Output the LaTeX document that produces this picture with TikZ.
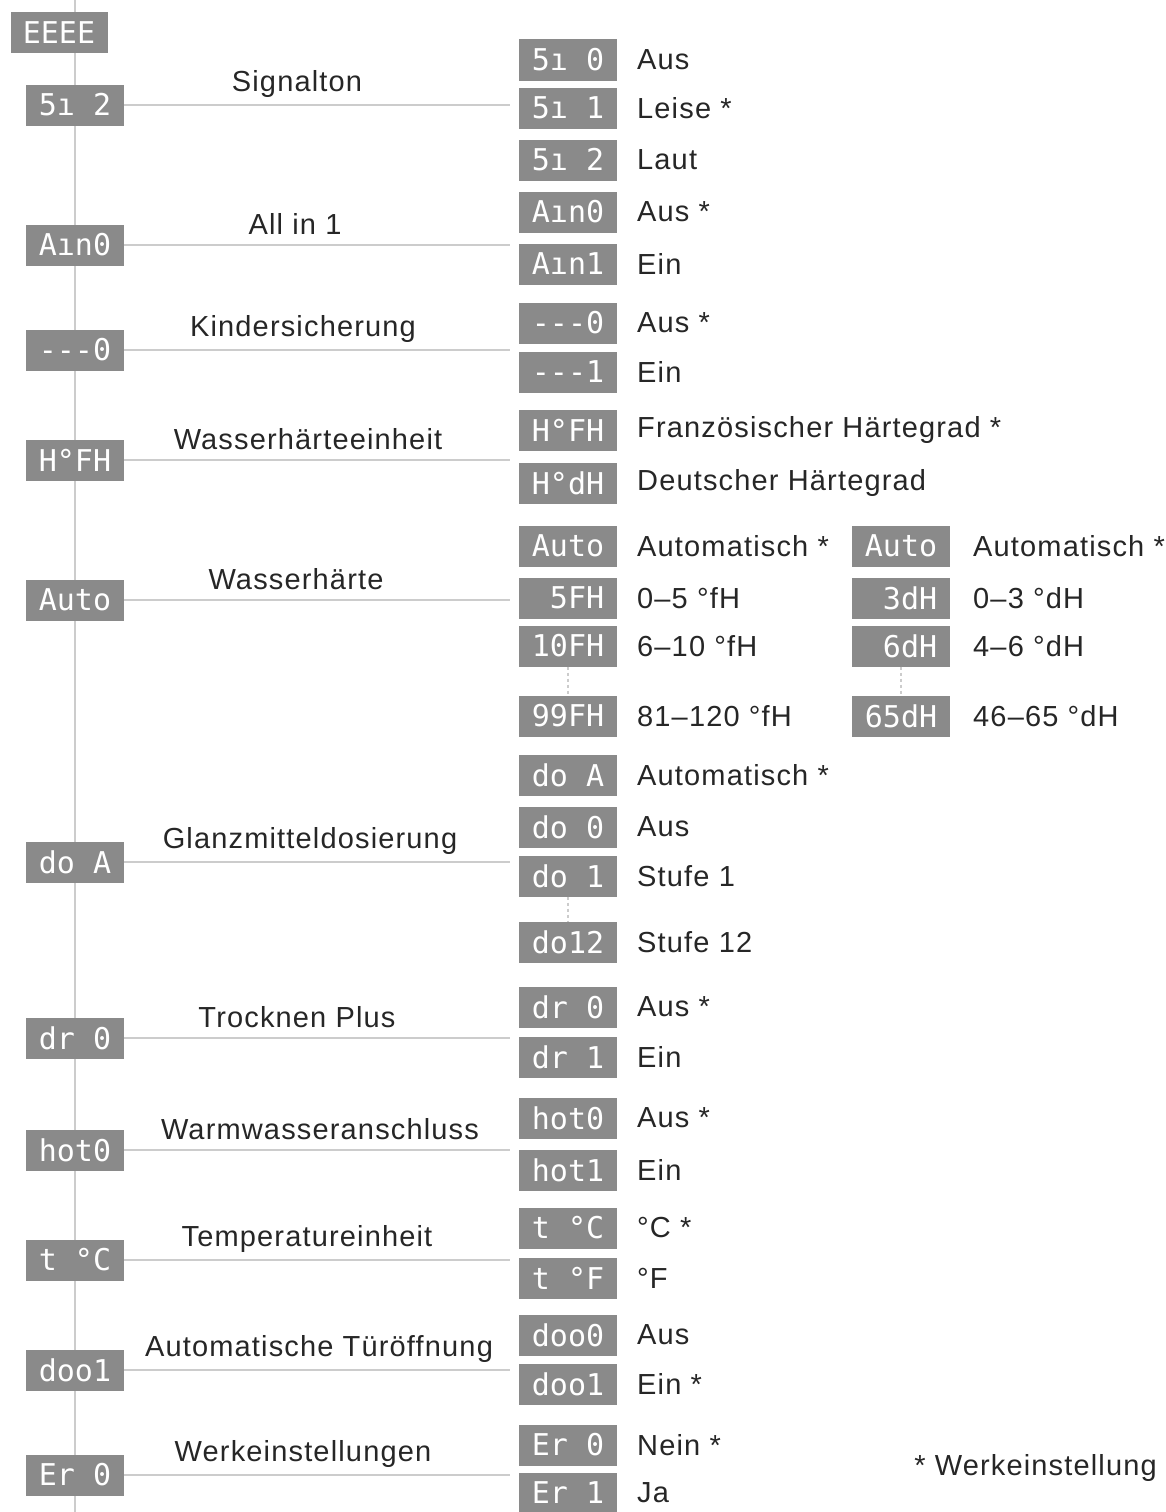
\documentclass[tikz,border=0pt]{standalone}
\usepackage{fontspec}
\setmainfont[LetterSpace=4]{Liberation Sans}
\newfontfamily\dispfont{DejaVu Sans Mono}
\begin{document}
\begin{tikzpicture}[x=1pt,y=-1pt,
  disp/.style={fill=dispgray,minimum width=98pt,minimum height=41pt,inner sep=0pt,text=white,font=\dispfont\fontsize{30}{30}\selectfont},
  lbl/.style={font=\fontsize{29}{30}\selectfont,anchor=west,inner sep=0pt,text=black!85},
  ttl/.style={font=\fontsize{29}{30}\selectfont,inner sep=0pt,text=black!85},
  conn/.style={draw=linegray,line width=2.5pt},
  dots/.style={draw=linegray,line width=2pt,dash pattern=on 3pt off 3pt}]
\definecolor{dispgray}{HTML}{8A8A8A}
\definecolor{linegray}{HTML}{CCCCCC}
\useasboundingbox (0,0) rectangle (1165,1512);
\coordinate (vt) at (75,0); \coordinate (vb) at (75,1512);
\draw[conn] (vt) -- (vb);
\node[disp,minimum width=97pt] (E) at (59,33) {EEEE};
% left rows
\foreach \n/\y/\t/\l/\tx in {a/105/5ı 2/Signalton/297, b/245/Aın0/All in 1/295, c/350/---0/Kindersicherung/303, d/460/H°FH/Wasserhärteeinheit/308, e/600/Auto/Wasserhärte/296, f/862/do A/Glanzmitteldosierung/310, g/1038/dr 0/Trocknen Plus/297, h/1150/hot0/Warmwasseranschluss/320, i/1260/t °C/Temperatureinheit/307, j/1370/doo1/Automatische Türöffnung/319, k/1475/Er 0/Werkeinstellungen/303}{
  \node[disp] (L\n) at (75,\y) {\t};
  \coordinate (R\n) at (510,\y);
  \draw[conn] (L\n.east) -- (R\n);
  \node[ttl] (T\n) at (\tx,\y-21) {\l};
}
% right column
\foreach \n/\y/\t/\l in {a0/60/5ı 0/Aus, a1/108/5ı 1/Leise *, a2/160/5ı 2/Laut,
 b0/212/Aın0/Aus *, b1/264/Aın1/Ein, c0/323/---0/Aus *, c1/372/---1/Ein,
 d0/430/H°FH/Französischer Härtegrad *, d1/483/H°dH/Deutscher Härtegrad,
 e0/546/Auto/Automatisch *, e1/598/\hphantom{0}5FH/0–5 °fH, e2/646/10FH/6–10 °fH, e3/716/99FH/81–120 °fH,
 f0/775/do A/Automatisch *, f1/827/do 0/Aus, f2/876/do 1/Stufe 1, f3/942/do12/Stufe 12,
 g0/1007/dr 0/Aus *, g1/1057/dr 1/Ein, h0/1118/hot0/Aus *, h1/1170/hot1/Ein,
 i0/1228/t °C/°C *, i1/1278/t °F/°F, j0/1335/doo0/Aus, j1/1384/doo1/Ein *,
 k0/1445/Er 0/Nein *, k1/1493/Er 1/Ja}{
  \node[disp] (D\n) at (568,\y) {\t};
  \node[lbl] (X\n) at (637,\y) {\l};
}
\foreach \n/\y/\t/\l in {0/546/Auto/Automatisch *, 1/598/\hphantom{0}3dH/0–3 °dH, 2/646/\hphantom{0}6dH/4–6 °dH, 3/716/65dH/46–65 °dH}{
  \node[disp] (W\n) at (901,\y) {\t};
  \node[lbl] (Y\n) at (973,\y) {\l};
}
\draw[dots] (De2.south) -- (De3.north);
\draw[dots] (W2.south) -- (W3.north);
\draw[dots] (Df2.south) -- (Df3.north);
\node[ttl,anchor=east] (note) at (1157,1468) {* Werkeinstellung};
\end{tikzpicture}
\end{document}
